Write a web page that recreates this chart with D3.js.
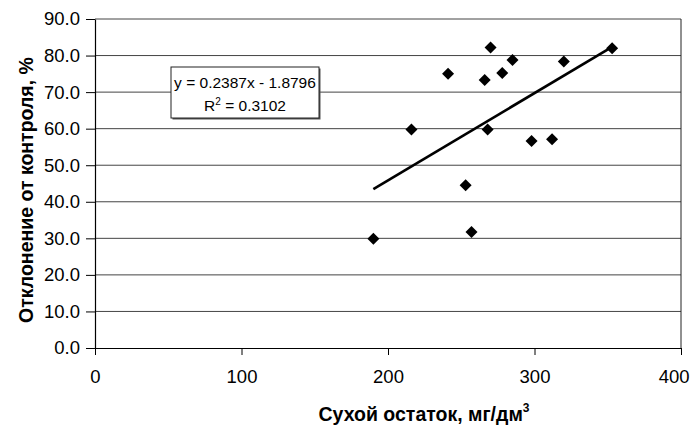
<!DOCTYPE html>
<html>
<head>
<meta charset="utf-8">
<script src="https://cdn.jsdelivr.net/npm/d3@7/dist/d3.min.js"></script>
<style>
  html, body { margin: 0; padding: 0; background: #fff; }
  svg { display: block; font-family: "Liberation Sans", Arial, Helvetica, sans-serif; }
</style>
</head>
<body>
<svg id="chart" width="690" height="426"></svg>
<script>
// ---- data ----
const xValues = [190, 216, 241, 253, 257, 266, 270, 268, 278, 285, 298, 312, 320, 353];
const yValues = [29.9, 59.8, 75.0, 44.5, 31.7, 73.3, 82.2, 59.8, 75.2, 78.8, 56.6, 57.1, 78.4, 82.0];
const xTicks = [0, 100, 200, 300, 400];
const yTicks = [0, 10, 20, 30, 40, 50, 60, 70, 80, 90];
const trendSlope = [0.2387];
const trendIntercept = [-1.8796];
const equationLines = ["y = 0.2387x - 1.8796", "R2 = 0.3102"];
const xTitle = "Сухой остаток, мг/дм";
const yTitle = "Отклонение от контроля, %";

// ---- layout ----
const svg = d3.select("#chart");
const mLeft = 95, mRight = 681, mTop = 19, mBottom = 348;

const x = d3.scaleLinear().domain([0, 400]).range([mLeft, mRight]);
const y = d3.scaleLinear().domain([0, 90]).range([mBottom, mTop]);

// gridlines
svg.append("g")
  .selectAll("line")
  .data(yTicks.filter(d => d > 0))
  .join("line")
  .attr("x1", mLeft).attr("x2", mRight)
  .attr("y1", d => y(d)).attr("y2", d => y(d))
  .attr("stroke", "#444").attr("stroke-width", 1);

// right border
svg.append("line")
  .attr("x1", mRight).attr("x2", mRight).attr("y1", mTop).attr("y2", mBottom)
  .attr("stroke", "#222").attr("stroke-width", 1);

// y axis
const yAxis = svg.append("g")
  .attr("transform", `translate(${mLeft},0)`)
  .call(d3.axisLeft(y).tickValues(yTicks).tickFormat(d3.format(".1f")).tickSize(9).tickSizeOuter(0));
yAxis.select(".domain").attr("stroke", "#000").attr("stroke-width", 1.2);
yAxis.selectAll(".tick line").attr("stroke", "#000");
yAxis.selectAll(".tick text")
  .attr("x", -15)
  .attr("font-size", 18.5)
  .attr("fill", "#000")
  .attr("font-family", "'Liberation Sans', Arial, sans-serif");

// x axis
const xAxis = svg.append("g")
  .attr("transform", `translate(0,${mBottom})`)
  .call(d3.axisBottom(x).tickValues(xTicks).tickFormat(d3.format("d")).tickSize(7).tickSizeOuter(0));
xAxis.select(".domain").attr("stroke", "#000").attr("stroke-width", 1.2);
xAxis.selectAll(".tick line").attr("stroke", "#000");
xAxis.selectAll(".tick text")
  .attr("y", 22)
  .attr("font-size", 18.5)
  .attr("fill", "#000")
  .attr("font-family", "'Liberation Sans', Arial, sans-serif")
  .attr("text-anchor", d => d === d3.max(xTicks) ? "end" : "middle")
  .attr("dx", d => d === d3.max(xTicks) ? 8 : 0);

// trend line
const xMin = d3.min(xValues), xMax = d3.max(xValues);
const trendData = [xMin, xMax].map(v => ({ x: v, y: trendSlope[0] * v + trendIntercept[0] }));
svg.append("path")
  .datum(trendData)
  .attr("d", d3.line().x(d => x(d.x)).y(d => y(d.y)))
  .attr("stroke", "#000").attr("stroke-width", 2.6).attr("fill", "none");

// points (diamonds)
const pts = xValues.map((v, i) => ({ x: v, y: yValues[i] }));
svg.append("g")
  .selectAll("path")
  .data(pts)
  .join("path")
  .attr("d", d3.symbol().type(d3.symbolSquare).size(72))
  .attr("transform", d => `translate(${x(d.x)},${y(d.y)}) rotate(45)`)
  .attr("fill", "#000");

// equation box
const bx = 171, by = 67, bw = 148, bh = 51;
svg.append("rect")
  .attr("x", bx + 1.5).attr("y", by + 1.5).attr("width", bw).attr("height", bh)
  .attr("fill", "#555");
svg.append("rect")
  .attr("x", bx).attr("y", by).attr("width", bw).attr("height", bh)
  .attr("fill", "#fff").attr("stroke", "#222").attr("stroke-width", 1);
const eq = svg.append("g").attr("font-size", 15.5).attr("fill", "#000").attr("text-anchor", "middle");
eq.append("text").attr("x", bx + bw / 2).attr("y", by + 21).text(equationLines[0]);
const r2 = eq.append("text").attr("x", bx + bw / 2).attr("y", by + 44);
r2.append("tspan").text(equationLines[1].slice(0, 1));
r2.append("tspan").attr("dy", -6).attr("font-size", 10).text(equationLines[1].slice(1, 2));
r2.append("tspan").attr("dy", 6).text(equationLines[1].slice(2));

// axis titles
const xt = svg.append("text")
  .attr("x", 424).attr("y", 421)
  .attr("text-anchor", "middle")
  .attr("font-size", 19.5).attr("font-weight", "bold").attr("fill", "#000");
xt.append("tspan").text(xTitle);
xt.append("tspan").attr("dy", -9).attr("font-size", 12).text("3");

svg.append("text")
  .attr("transform", "translate(33,190) rotate(-90)")
  .attr("text-anchor", "middle")
  .attr("font-size", 19.5).attr("font-weight", "bold").attr("fill", "#000")
  .text(yTitle);
</script>
</body>
</html>
